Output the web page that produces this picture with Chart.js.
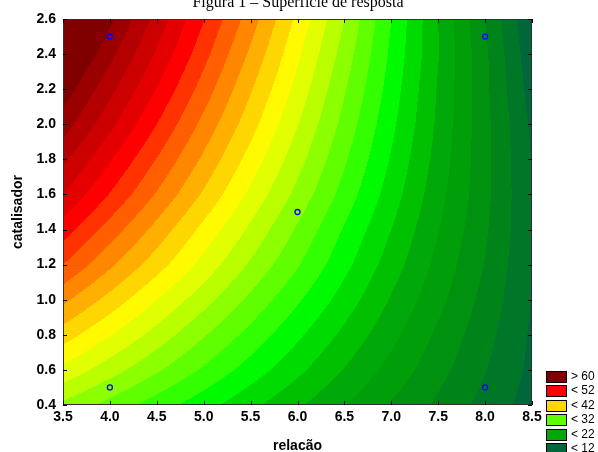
<!DOCTYPE html>
<html lang="pt">
<head>
  <meta charset="UTF-8" />
  <title>Figura 1 – Superfície de resposta</title>
  <script src="https://cdn.jsdelivr.net/npm/chart.js"></script>
  <style>
    html, body { margin: 0; padding: 0; background: #fff; overflow: hidden; }
    #box { width: 598px; height: 452px; }
  </style>
</head>
<body>
  <div id="box"><canvas id="grafico" width="598" height="452"></canvas></div>

  <script>
    // grade: relacao (x), catalisador (y) e a resposta em cada no
    const relacao = [3.5, 4.0, 4.5, 5.0, 5.5, 6.0, 6.5, 7.0, 7.5, 8.0, 8.5];
    const catalisador = [0.4, 0.6, 0.8, 1.0, 1.2, 1.4, 1.6, 1.8, 2.0, 2.2, 2.4, 2.6];

    const z04 = [33.5, 31.3, 29.0, 26.8, 24.5, 22.3, 20.1, 17.8, 15.6, 13.3, 11.1];
    const z06 = [37.5, 34.9, 32.3, 29.7, 27.1, 24.5, 21.9, 19.3, 16.7, 14.1, 11.5];
    const z08 = [41.0, 38.1, 35.2, 32.2, 29.3, 26.4, 23.5, 20.6, 17.6, 14.7, 11.7];
    const z10 = [44.5, 41.3, 38.0, 34.8, 31.5, 28.3, 25.1, 21.8, 18.6, 15.3, 11.9];
    const z12 = [48.0, 44.4, 40.9, 37.3, 33.7, 30.2, 26.6, 23.0, 19.4, 15.9, 12.0];
    const z14 = [51.0, 47.1, 43.3, 39.4, 35.6, 31.7, 27.8, 24.0, 20.1, 16.3, 12.1];
    const z16 = [54.0, 49.9, 45.8, 41.7, 37.5, 33.4, 29.2, 25.0, 20.7, 16.6, 12.0];
    const z18 = [56.5, 52.2, 47.9, 43.6, 39.2, 34.8, 30.3, 25.8, 21.2, 16.6, 11.9];
    const z20 = [59.0, 54.6, 50.0, 45.4, 40.8, 36.1, 31.3, 26.5, 21.6, 16.6, 11.6];
    const z22 = [61.2, 56.6, 51.9, 47.1, 42.2, 37.3, 32.2, 27.1, 21.8, 16.5, 11.1];
    const z24 = [63.4, 58.6, 53.7, 48.7, 43.6, 38.4, 33.1, 27.6, 22.1, 16.4, 10.6];
    const z26 = [65.5, 60.5, 55.3, 50.1, 45.0, 39.5, 34.0, 28.0, 22.0, 16.0, 10.0];
    const superficie = [z04, z06, z08, z10, z12, z14, z16, z18, z20, z22, z24, z26];

    // pontos do planejamento
    const pontosX = [4, 4, 6, 8, 8];
    const pontosY = [0.5, 2.5, 1.5, 0.5, 2.5];

    // niveis de contorno e legenda
    const niveis = [12, 14, 16, 18, 20, 22, 24, 26, 28, 30, 32, 34, 36, 38, 40, 42, 44, 46, 48, 50, 52, 54, 56, 58, 60];
    const legendaNiveis = [60, 52, 42, 32, 22, 12];

    const xTicks = [3.5, 4.0, 4.5, 5.0, 5.5, 6.0, 6.5, 7.0, 7.5, 8.0, 8.5];
    const yTicks = [0.4, 0.6, 0.8, 1.0, 1.2, 1.4, 1.6, 1.8, 2.0, 2.2, 2.4, 2.6];

    // cores das faixas, da mais baixa (< 12) ate a mais alta (> 60)
    const coresFaixas = [
      '#00663c', '#007628', '#008419', '#00910f', '#009e08', '#00a80a',
      '#00c000', '#00dc00', '#00fa00', '#32ff00', '#60ff00', '#8cff00',
      '#b9ff00', '#e1ff00', '#fffa00', '#ffd700', '#ffaf00', '#ff8700',
      '#ff5f00', '#ff3200', '#ff0000', '#e40000', '#cd0000', '#b40000',
      '#9b0000', '#800000'
    ];
    const rgbFaixas = coresFaixas.map(h => [1, 3, 5].map(i => parseInt(h.substr(i, 2), 16)));

    function faixa(z) {
      let k = 0;
      while (k < niveis.length && z >= niveis[k]) k++;
      return k;
    }

    function achaCelula(arr, v) {
      let i = 0;
      while (i < arr.length - 2 && v > arr[i + 1]) i++;
      const t = (v - arr[i]) / (arr[i + 1] - arr[i]);
      return [i, Math.max(0, Math.min(1, t))];
    }

    function valor(vx, vy) {
      const [i, tx] = achaCelula(relacao, vx);
      const [j, ty] = achaCelula(catalisador, vy);
      const a = superficie[j][i], b = superficie[j][i + 1];
      const c = superficie[j + 1][i], d = superficie[j + 1][i + 1];
      return (a * (1 - tx) + b * tx) * (1 - ty) + (c * (1 - tx) + d * tx) * ty;
    }

    const contornoPlugin = {
      id: 'contorno',
      beforeDatasetsDraw(chart) {
        const { ctx, chartArea: a, scales: { x, y } } = chart;
        const w = Math.round(a.right - a.left), h = Math.round(a.bottom - a.top);
        const img = ctx.createImageData(w, h);
        for (let j = 0; j < h; j++) {
          const vy = y.getValueForPixel(a.top + j + 0.5);
          for (let i = 0; i < w; i++) {
            const vx = x.getValueForPixel(a.left + i + 0.5);
            const c = rgbFaixas[faixa(valor(vx, vy))];
            const k = (j * w + i) * 4;
            img.data[k] = c[0];
            img.data[k + 1] = c[1];
            img.data[k + 2] = c[2];
            img.data[k + 3] = 255;
          }
        }
        ctx.putImageData(img, Math.round(a.left), Math.round(a.top));
      }
    };

    // moldura, marcas internas, titulo e legenda
    const molduraPlugin = {
      id: 'moldura',
      afterDraw(chart) {
        const { ctx, chartArea: a, scales: { x, y } } = chart;
        ctx.save();
        ctx.strokeStyle = '#303030';
        ctx.lineWidth = 1;
        ctx.strokeRect(a.left + 0.5, a.top + 0.5, a.right - a.left - 1, a.bottom - a.top - 1);
        ctx.strokeStyle = '#000';
        ctx.beginPath();
        xTicks.forEach(v => {
          const p = Math.round(x.getPixelForValue(v)) + 0.5;
          ctx.moveTo(p, a.bottom); ctx.lineTo(p, a.bottom - 4);
          ctx.moveTo(p, a.top); ctx.lineTo(p, a.top + 4);
        });
        yTicks.forEach(v => {
          const p = Math.round(y.getPixelForValue(v)) + 0.5;
          ctx.moveTo(a.left, p); ctx.lineTo(a.left + 4, p);
          ctx.moveTo(a.right, p); ctx.lineTo(a.right - 4, p);
        });
        ctx.stroke();

        ctx.fillStyle = '#000';
        ctx.font = '16px "Liberation Serif"';
        ctx.textAlign = 'center';
        ctx.textBaseline = 'alphabetic';
        ctx.fillText('Figura 1 – Superfície de resposta', 298, 7);

        ctx.font = '12px "Liberation Sans"';
        ctx.textAlign = 'left';
        ctx.textBaseline = 'middle';
        legendaNiveis.forEach((nv, i) => {
          const top = 371 + i * 14.4;
          const k = i === 0 ? niveis.length : niveis.indexOf(nv);
          ctx.fillStyle = coresFaixas[k];
          ctx.fillRect(546, Math.round(top), 20, 11);
          ctx.strokeStyle = '#000';
          ctx.strokeRect(546.5, Math.round(top) + 0.5, 20, 11);
          ctx.fillStyle = '#000';
          ctx.fillText((i === 0 ? '> ' : '< ') + nv, 571, Math.round(top) + 6);
        });
        ctx.restore();
      }
    };

    const fonteEixo = { family: '"Liberation Sans", Arial, sans-serif', size: 14, weight: 'bold' };

    new Chart(document.getElementById('grafico'), {
      type: 'scatter',
      data: {
        datasets: [{
          label: 'pontos',
          data: pontosX.map((v, i) => ({ x: v, y: pontosY[i] })),
          pointRadius: 2.5,
          pointBorderWidth: 1.3,
          pointBorderColor: '#0000ff',
          pointBackgroundColor: 'rgba(0,0,0,0)'
        }]
      },
      options: {
        responsive: false,
        animation: false,
        layout: { padding: { top: 19, right: 66, left: 0, bottom: 0 } },
        plugins: { legend: { display: false }, title: { display: false }, tooltip: { enabled: false } },
        scales: {
          x: {
            type: 'linear',
            min: 3.5,
            max: 8.5,
            afterBuildTicks: s => { s.ticks = xTicks.map(v => ({ value: v })); },
            afterFit: s => { s.height = 47; },
            grid: { display: false, drawTicks: false },
            border: { display: false },
            ticks: { color: '#000', font: fonteEixo, padding: 4, maxRotation: 0, callback: v => v.toFixed(1) },
            title: { display: true, text: 'relacão', color: '#000', font: { ...fonteEixo, lineHeight: 1 }, padding: { top: 0, bottom: -1 } }
          },
          y: {
            type: 'linear',
            min: 0.4,
            max: 2.6,
            afterBuildTicks: s => { s.ticks = yTicks.map(v => ({ value: v })); },
            afterFit: s => { s.width = 63; },
            grid: { display: false, drawTicks: false },
            border: { display: false },
            ticks: { color: '#000', font: fonteEixo, padding: 7, callback: v => v.toFixed(1) },
            title: { display: true, text: 'catalisador', color: '#000', font: { ...fonteEixo, lineHeight: 1 }, padding: { top: 11, bottom: 0 } }
          }
        }
      },
      plugins: [contornoPlugin, molduraPlugin]
    });
  </script>
</body>
</html>
